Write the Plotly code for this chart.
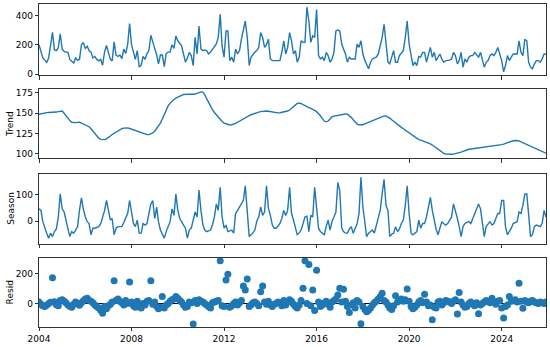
import plotly.graph_objects as go
from plotly.subplots import make_subplots
import pandas as pd

dates = pd.date_range("2004-01-01", periods=264, freq="MS")

observed = [
    200, 150, 110, 95, 80, 110, 200, 285, 165, 160, 180, 275,
    170, 155, 150, 150, 100, 90, 75, 110, 95, 100, 200, 215,
    175, 190, 160, 150, 110, 120, 100, 90, 100, 60, 150, 195,
    140, 100, 90, 220, 130, 120, 130, 105, 170, 140, 200, 345,
    200, 150, 100, 160, 50, 60, 120, 100, 140, 160, 265, 220,
    180, 130, 70, 130, 130, 50, 140, 150, 150, 200, 175, 260,
    227, 210, 193, 137, 81, 110, 148, 126, 58, 250, 137, 328,
    171, 160, 165, 160, 137, 150, 170, 193, 205, 250, 407, 190,
    115, 294, 294, 92, 115, 81, 171, 137, 160, 238, 300, 362,
    250, 58, 115, 137, 150, 160, 182, 283, 250, 182, 200, 238,
    103, 92, 92, 92, 92, 92, 150, 227, 137, 182, 283, 227,
    137, 160, 81, 115, 227, 216, 216, 456, 362, 216, 261, 250,
    440, 126, 103, 115, 92, 148, 126, 81, 103, 148, 294, 300,
    294, 205, 171, 137, 81, 115, 103, 103, 103, 205, 182, 227,
    137, 92, 60, 36, 81, 103, 110, 115, 137, 200, 250, 340,
    205, 81, 70, 126, 160, 81, 81, 126, 140, 160, 250, 362,
    205, 126, 58, 81, 58, 120, 115, 148, 148, 81, 126, 182,
    115, 148, 92, 115, 137, 100, 81, 92, 92, 95, 103, 148,
    126, 70, 92, 148, 47, 103, 81, 115, 126, 126, 148, 130,
    115, 148, 92, 47, 80, 92, 126, 137, 126, 148, 182, 140,
    92, 15, 58, 126, 92, 115, 137, 137, 137, 227, 148, 126,
    238, 227, 81, 47, 36, 70, 92, 92, 81, 103, 137, 137,
]

trend = [
    148.8, 149.5, 150, 150.5, 150.8, 151, 151, 151.1, 151.2, 151.5, 152, 152.5,
    152.8, 150, 147, 144, 141, 139, 138.5, 138.5, 138.8, 139, 138, 137,
    136, 135, 133.5, 131, 128, 125, 122, 119.5, 118, 117.5, 117.7, 118.5,
    120, 122, 124, 125.5, 127, 128.5, 130, 131, 131.8, 132, 132, 131.3,
    130.5, 129.8, 129, 128, 127, 126, 125, 124.2, 123.8, 123.8, 124.5, 125.8,
    128, 131, 134, 138, 143, 149, 155, 159, 162.5, 165, 167, 168.5,
    170, 171, 172, 173, 173.4, 173.5, 173.5, 173.4, 173.4, 173.6, 174.5, 175.5,
    176.2, 176, 173, 168, 163, 158.5, 154.5, 151, 148, 145, 142.5, 140,
    138, 137, 136, 135.6, 135.9, 136.5, 137.5, 139, 140.5, 142, 143.5, 145,
    146.2, 147.2, 148.2, 149.2, 150, 150.8, 151.5, 152, 152.4, 152.7, 152.8, 152.5,
    152, 151.4, 150.9, 150.6, 150.5, 150.6, 151, 151.5, 152, 152.8, 154, 156,
    158.5, 160.5, 162, 162.5, 162, 160.5, 159, 158, 157, 156, 155, 153.5,
    152, 150, 147, 143.5, 140.5, 139.5, 140.5, 143, 145.5, 146.5, 147, 147.5,
    148, 148.5, 149, 149.2, 149, 147.5, 145, 142, 139, 137, 135.9, 135.5,
    136, 137, 138, 139, 140, 141, 142, 143, 144.2, 145.5, 146.5, 146.8,
    146.5, 145.5, 144, 142, 140, 138, 136.2, 134.5, 132.7, 131, 129.3, 127.8,
    126, 124, 122, 120.2, 118.7, 117.7, 117, 116.2, 115.3, 114.5, 113.7, 112.5,
    111, 109.2, 107.5, 105.5, 103.6, 102, 100.8, 100, 99.6, 99.5, 99.6, 99.8,
    100.3, 100.8, 101.5, 102.3, 103.2, 104.2, 105.2, 105.8, 106.2, 106.5, 106.8, 107.1,
    107.3, 107.5, 107.7, 108, 108.3, 108.6, 108.9, 109.3, 109.7, 110.1, 110.5, 111,
    111.5, 112.2, 113, 114, 115, 115.8, 116.3, 116.5, 116.5, 116, 115, 114,
    113, 112, 111, 110, 109, 108, 107, 106, 104.8, 103.5, 102.3, 101,
]

season = [
    47, 41, -2, -27, -46, -65, -46, -59, -40, -30, 16, 104,
    47, 35, 4, -21, -59, -40, -46, -34, -21, 41, 89, 47,
    16, -2, -9, -52, -27, -27, -25, -21, -10, 16, 40, 79,
    41, 4, 10, -52, -27, -21, -21, -21, -5, 10, 29, 79,
    29, -9, -21, 4, -46, -46, -9, -15, -9, 35, 66, 79,
    10, 54, -2, -34, -52, -65, -40, -21, -2, 47, 22, 104,
    41, 10, -5, -15, -27, -65, -34, -27, 4, 35, 16, 119,
    41, -15, -34, -40, -37, -34, -15, 16, 66, 41, 129, 16,
    -27, -15, -40, -37, -34, -46, 29, 41, 54, 66, 80, 135,
    41, -59, -52, -45, -34, 0, 16, 54, 22, 35, 135, 50,
    22, -15, -27, -27, -20, -9, 10, 41, 22, 41, 129, 30,
    4, -27, -52, -45, -34, -10, 16, 19, -40, 22, 16, 129,
    41, -27, -40, -45, -52, -20, 4, -34, 0, 16, 35, 148,
    116, -27, -40, -46, -46, -30, -21, -46, -27, -10, 29, 168,
    54, -20, -59, -46, -40, -34, -46, -15, 10, 41, 104, 160,
    60, 41, -59, -50, -46, -21, -40, -30, -9, 4, 60, 135,
    29, -46, -52, -45, -40, 4, -27, -9, -9, 16, 50, 91,
    41, -2, -30, -52, -27, -2, -10, -15, -9, 5, 16, 66,
    41, 10, -20, -59, -21, -9, -5, -2, -9, 10, 30, 47,
    66, 47, -9, -59, -21, -10, -2, -15, -9, 10, 29, 29,
    79, 79, -21, -52, -40, -27, -9, -5, -2, 35, 29, 60,
    104, 104, 16, -59, -52, -21, -15, -18, -21, -9, 41, 16,
]

resid = [
    10, -5, -15, -20, -12, 0, 8, 172, 12, -8, -15, 20,
    25, 15, 5, -10, -18, -25, -5, 10, 0, -12, 5, 18,
    30, 35, 20, 15, 5, -10, -20, -30, -45, -64, -20, -35,
    -15, -5, 10, 152, 20, 30, 15, 5, -10, 20, 0, 143,
    10, -15, -25, 15, -20, -30, 0, -10, 15, 20, 152, -5,
    10, -20, -35, -25, 46, -30, -10, 0, 15, 25, 30, 46,
    35, 20, 10, -10, -25, -20, 10, 5, -136, 20, 0, 25,
    15, 10, 0, -10, -20, -30, 5, 10, 15, 20, 284, -15,
    -20, 156, 194, -25, -15, 0, 10, -10, 5, 20, 117, 90,
    163, -20, -10, 5, 10, 0, -15, 79, 117, 10, -5, 15,
    -10, -20, -5, 0, 10, 5, -15, 20, -10, 10, 25, 15,
    -5, -20, -30, -10, 20, 101, 284, 0, 260, -15, 90, -46,
    222, 10, -20, -10, 5, 15, -5, -25, 10, 20, 30, 57,
    101, 10, 95, 15, -20, -59, -10, 5, -30, 20, 10, -135,
    -20, -40, -55, -45, -30, -10, 5, 15, 30, 45, 68, 20,
    10, -10, -30, -40, -15, 51, 10, 20, 30, 15, 25, 97,
    15, -20, -35, -25, -10, 10, 20, 5, 62, 10, -15, -10,
    -108, -25, -30, 10, 15, -10, 5, 20, 15, 10, 0, 15,
    25, -70, 73, 10, -10, -25, -20, 0, 10, -5, -15, 5,
    -68, -10, 0, 10, 20, 15, 5, 35, 10, -5, 15, 20,
    -30, -97, -20, -10, 46, 15, 20, 25, 10, 134, 15, -31,
    20, 10, 5, 15, 20, 10, 5, 0, 10, 5, 0, 10,
]

assert len(observed) == len(trend) == len(season) == len(resid) == 264

x_start, x_end = dates[0], dates[-1]
BLUE = "#1f77b4"
FONT = dict(family="DejaVu Sans", size=9, color="#000000")

fig = make_subplots(rows=4, cols=1, shared_xaxes=False, vertical_spacing=0.02)

fig.add_trace(go.Scatter(x=dates, y=observed, mode="lines",
                         line=dict(color=BLUE, width=1.4)), row=1, col=1)
fig.add_trace(go.Scatter(x=dates, y=trend, mode="lines",
                         line=dict(color=BLUE, width=1.4)), row=2, col=1)
fig.add_trace(go.Scatter(x=dates, y=season, mode="lines",
                         line=dict(color=BLUE, width=1.4)), row=3, col=1)
fig.add_trace(go.Scatter(x=[x_start, x_end], y=[0, 0], mode="lines",
                         line=dict(color="black", width=1)), row=4, col=1)
fig.add_trace(go.Scatter(x=dates, y=resid, mode="markers",
                         marker=dict(color=BLUE, size=7)), row=4, col=1)

domains = [(0.779, 1.0), (0.5215, 0.736), (0.2577, 0.4755), (0.0, 0.2147)]
yranges = [(-9, 478), (94.4, 179.5), (-86.5, 182.5), (-156, 305)]
ytickvals = [[0, 200, 400], [100, 125, 150, 175], [0, 100], [0, 200]]
titles = [None, "Trend", "Season", "Resid"]

axis_common = dict(showline=True, linecolor="black", linewidth=0.8, mirror=True,
                   ticks="outside", ticklen=3.5, tickwidth=0.8, tickcolor="black",
                   showgrid=False, zeroline=False, tickfont=FONT)

for k in range(4):
    r = k + 1
    fig.update_yaxes(domain=list(domains[k]), range=list(yranges[k]),
                     tickvals=ytickvals[k], row=r, col=1, **axis_common)
    fig.update_xaxes(range=[x_start, x_end], tick0="2004-01-01", dtick="M48",
                     tickformat="%Y", showticklabels=(k == 3), row=r, col=1,
                     **axis_common)
    if titles[k]:
        yc = (domains[k][0] + domains[k][1]) / 2
        fig.add_annotation(text=titles[k], xref="paper", yref="paper",
                           x=-0.057, y=yc, xanchor="center", yanchor="middle",
                           textangle=-90, showarrow=False, font=FONT)

fig.update_layout(width=550, height=347, showlegend=False, hovermode=False,
                  margin=dict(l=39, r=4, t=3, b=18),
                  paper_bgcolor="white", plot_bgcolor="white", font=FONT)

fig.write_html("out.html",
               config={"displayModeBar": False, "staticPlot": True},
               post_script="document.body.style.margin='0px';"
                           "document.body.style.overflow='hidden';")
